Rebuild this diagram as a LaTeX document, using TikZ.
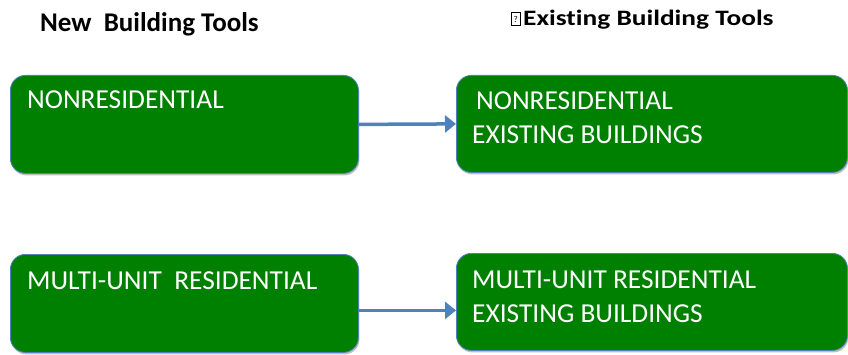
\documentclass[tikz,border=0pt]{standalone}
\usepackage{fontspec}
\setmainfont{Carlito}[Ligatures={NoCommon,NoRare}]
\usetikzlibrary{shadows,arrows.meta}
\definecolor{boxgreen}{HTML}{008000}
\definecolor{boxline}{HTML}{4F81BD}
\definecolor{arrowblue}{HTML}{4F81BD}
\tikzset{
  greenbox/.style={draw=boxline, line width=0.8pt, fill=boxgreen, rounded corners=15pt,
    drop shadow={shadow xshift=1pt, shadow yshift=-2pt, fill=black, opacity=0.25}},
  boxtext/.style={anchor=base west, inner sep=0pt, text=white, font=\fontsize{27.4}{27.4}\selectfont},
  titletext/.style={anchor=base west, inner sep=0pt, font=\bfseries\fontsize{27}{27}\selectfont},
  conn/.style={draw=arrowblue, line width=3.5pt, -{Triangle[length=11pt,width=17pt]}},
}
\begin{document}
\begin{tikzpicture}[x=1pt,y=1pt]
\useasboundingbox (0,0) rectangle (848,354);
% titles
\node[titletext] (t1) at (40,322) {New\ \ Building Tools};
\node[draw, line width=0.6pt, inner sep=0pt, minimum width=9pt, minimum height=13pt, anchor=south west,
  font=\fontsize{9}{9}\selectfont] (qbox) at (511,328) {?};
\node[anchor=base west, inner sep=0pt] (t2) at (523,328)
  {\scalebox{1.244}[1]{\bfseries\fontsize{22}{22}\selectfont Existing Building Tools}};
% boxes
\node[greenbox, minimum width=348pt, minimum height=98pt, anchor=north west] (b1) at (10,279) {};
\node[greenbox, minimum width=391pt, minimum height=97pt, anchor=north west] (b2) at (456,279) {};
\node[greenbox, minimum width=348pt, minimum height=98pt, anchor=north west] (b3) at (10,100) {};
\node[greenbox, minimum width=391pt, minimum height=97pt, anchor=north west] (b4) at (456,101) {};
% texts
\node[boxtext] (l1) at (27,245) {NONRESIDENTIAL};
\node[boxtext] (l2a) at (476,244) {NONRESIDENTIAL};
\node[boxtext] (l2b) at (472,211) {EXISTING BUILDINGS};
\node[boxtext] (l3) at (27,65) {MULTI-UNIT\ \ RESIDENTIAL};
\node[boxtext] (l4a) at (472,66) {MULTI-UNIT RESIDENTIAL};
\node[boxtext] (l4b) at (472,32) {EXISTING BUILDINGS};
% arrows
\draw[conn] (b1.east) -- (b2.west);
\draw[conn] ([yshift=-7pt]b3.east) -- ([yshift=-8.5pt]b4.west);
\end{tikzpicture}
\end{document}
